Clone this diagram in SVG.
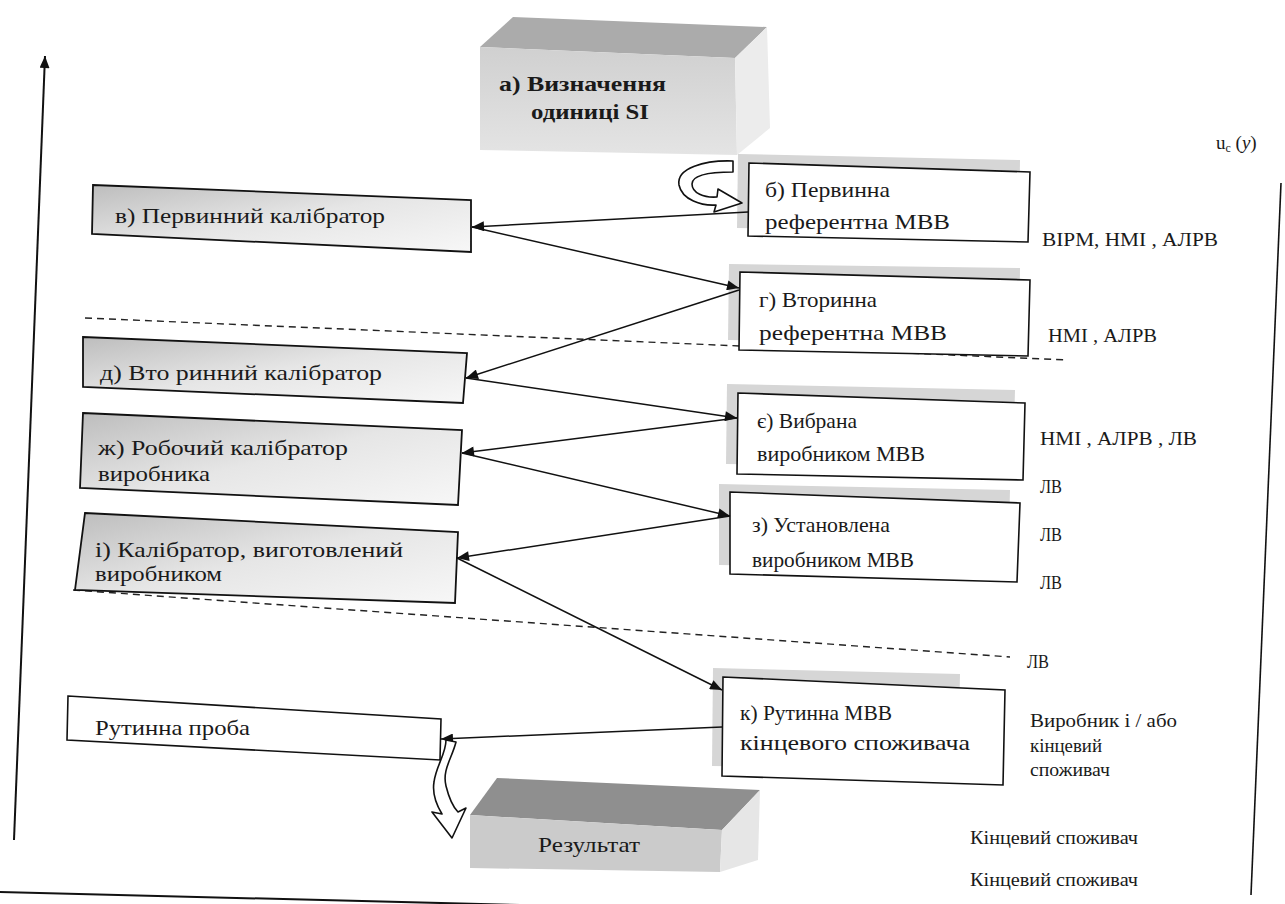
<svg xmlns="http://www.w3.org/2000/svg" width="1285" height="904" viewBox="0 0 1285 904">
<style>
text{font-family:"Liberation Serif","DejaVu Serif",serif;fill:#1a1a1a}
.n{font-size:22px}
.b{font-size:22px;font-weight:bold}
.r{font-size:18px}
.box{fill:#fff;stroke:#111;stroke-width:1.6}
.lbox{fill:url(#lg);stroke:#111;stroke-width:1.8}
.sh{fill:#d6d6d6}
.con{stroke:#111;stroke-width:1.5;fill:none;marker-end:url(#ah)}
.dash{stroke:#222;stroke-width:1.4;stroke-dasharray:7 5;fill:none}
.hollow{fill:#fff;stroke:#111;stroke-width:1.6;stroke-linejoin:round}
</style>
<defs>
<linearGradient id="lg" x1="0" y1="0" x2="1" y2="1">
<stop offset="0" stop-color="#bdbdbd"/>
<stop offset="0.5" stop-color="#e6e6e6"/>
<stop offset="1" stop-color="#f7f7f7"/>
</linearGradient>
<linearGradient id="front" x1="0" y1="0" x2="0" y2="1">
<stop offset="0" stop-color="#d0d0d0"/>
<stop offset="1" stop-color="#e4e4e4"/>
</linearGradient>
<marker id="ah" viewBox="0 0 12 10" refX="12" refY="5" markerWidth="13" markerHeight="10" markerUnits="userSpaceOnUse" orient="auto">
<path d="M0 0 L12 5 L0 10 Z" fill="#111"/>
</marker>
</defs>

<g id="axes">
<line x1="14" y1="840" x2="45" y2="56" stroke="#111" stroke-width="2" marker-end="url(#ah)"/>
<line x1="0" y1="892" x2="560" y2="906" stroke="#111" stroke-width="2"/>
<line x1="1281" y1="183" x2="1251" y2="895" stroke="#111" stroke-width="1.6"/>
</g>

<g id="dashes">
<line class="dash" x1="85" y1="318" x2="1068" y2="360"/>
<line class="dash" x1="73" y1="590" x2="1010" y2="657"/>
</g>

<g id="node-a">
<polygon points="480,47 513,17 767,27 735,58" fill="#ababab"/>
<polygon points="480,47 735,58 737,155 480,150" fill="url(#front)"/>
<polygon points="735,58 767,27 770,128 737,155" fill="#ececec"/>
<text class="b" x="499" y="91" textLength="167" lengthAdjust="spacingAndGlyphs">а) Визначення</text>
<text class="b" x="531" y="119" textLength="118" lengthAdjust="spacingAndGlyphs">одиниці SI</text>
</g>

<g id="node-b">
<polygon class="sh" points="738,154 1020,160 1019,232 737,228"/>
<polygon class="box" points="749,163 1030,172 1028,242 748,236"/>
<text class="n" x="765" y="197" textLength="125" lengthAdjust="spacingAndGlyphs">б) Первинна</text>
<text class="n" x="765" y="229" textLength="185" lengthAdjust="spacingAndGlyphs">референтна МВВ</text>
</g>

<g id="node-v">
<polygon class="lbox" points="93,185 471,200 471,252 92,234"/>
<text class="n" x="115" y="223" textLength="270" lengthAdjust="spacingAndGlyphs">в) Первинний калібратор</text>
</g>

<g id="node-g">
<polygon class="sh" points="729,264 1020,268 1019,344 728,340"/>
<polygon class="box" points="740,272 1030,280 1028,356 739,350"/>
<text class="n" x="759" y="307" textLength="118" lengthAdjust="spacingAndGlyphs">г) Вторинна</text>
<text class="n" x="759" y="340" textLength="188" lengthAdjust="spacingAndGlyphs">референтна МВВ</text>
</g>

<g id="node-d">
<polygon class="lbox" points="83,337 467,353 463,403 83,387"/>
<text class="n" x="100" y="380" textLength="282" lengthAdjust="spacingAndGlyphs">д) Вто ринний калібратор</text>
</g>

<g id="node-ye">
<polygon class="sh" points="727,384 1015,390 1013,468 726,464"/>
<polygon class="box" points="738,393 1025,403 1023,480 737,474"/>
<text class="n" x="757" y="428" textLength="100" lengthAdjust="spacingAndGlyphs">є) Вибрана</text>
<text class="n" x="757" y="461" textLength="168" lengthAdjust="spacingAndGlyphs">виробником МВВ</text>
</g>

<g id="node-zh">
<polygon class="lbox" points="83,413 462,430 458,505 80,488"/>
<text class="n" x="98" y="455" textLength="250" lengthAdjust="spacingAndGlyphs">ж) Робочий калібратор</text>
<text class="n" x="98" y="481" textLength="112" lengthAdjust="spacingAndGlyphs">виробника</text>
</g>

<g id="node-z">
<polygon class="sh" points="719,484 1010,490 1008,570 719,565"/>
<polygon class="box" points="730,492 1020,503 1017,582 730,574"/>
<text class="n" x="752" y="532" textLength="138" lengthAdjust="spacingAndGlyphs">з) Установлена</text>
<text class="n" x="752" y="567" textLength="162" lengthAdjust="spacingAndGlyphs">виробником МВВ</text>
</g>

<g id="node-i">
<polygon class="lbox" points="85,513 458,532 455,603 75,590"/>
<text class="n" x="95" y="557" textLength="308" lengthAdjust="spacingAndGlyphs">і) Калібратор, виготовлений</text>
<text class="n" x="95" y="581" textLength="127" lengthAdjust="spacingAndGlyphs">виробником</text>
</g>

<g id="node-k">
<polygon class="sh" points="713,668 960,674 958,770 712,766"/>
<polygon class="box" points="723,677 1005,690 1003,785 722,776"/>
<text class="n" x="740" y="720" textLength="152" lengthAdjust="spacingAndGlyphs">к) Рутинна МВВ</text>
<text class="n" x="740" y="750" textLength="230" lengthAdjust="spacingAndGlyphs">кінцевого споживача</text>
</g>

<g id="node-proba">
<polygon class="box" points="68,696 441,719 440,760 67,740"/>
<text class="n" x="95" y="735" textLength="155" lengthAdjust="spacingAndGlyphs">Рутинна проба</text>
</g>

<g id="node-result">
<polygon points="470,815 497,778 760,790 722,830" fill="#8f8f8f"/>
<polygon points="470,815 722,830 720,872 470,868" fill="#cbcbcb"/>
<polygon points="722,830 760,790 758,860 720,872" fill="#e6e6e6"/>
<text class="n" x="538" y="852" textLength="102" lengthAdjust="spacingAndGlyphs">Результат</text>
</g>

<g id="connectors">
<line class="con" x1="748" y1="212" x2="472" y2="227"/>
<line class="con" x1="472" y1="227" x2="739" y2="288"/>
<line class="con" x1="739" y1="290" x2="466" y2="378"/>
<line class="con" x1="466" y1="378" x2="737" y2="418"/>
<line class="con" x1="737" y1="418" x2="462" y2="453"/>
<line class="con" x1="462" y1="453" x2="730" y2="516"/>
<line class="con" x1="730" y1="516" x2="457" y2="558"/>
<line class="con" x1="457" y1="558" x2="722" y2="690"/>
<line class="con" x1="722" y1="727" x2="441" y2="739"/>
<path class="hollow" d="M733 161 C705 160 676 168 679 185 C682 200 702 206 716 205 L714 212 L742 203 L718 189 L717 197 C704 198 692 193 692 184 C692 174 712 172 733 172 Z"/>
<path class="hollow" d="M446 740 L456 742 C452 758 442 770 446 786 C449 798 452 806 458 812 L466 808 L452 838 L432 812 L442 814 C436 804 432 794 434 782 C436 766 446 754 446 740 Z"/>
</g>

<g id="labels">
<text x="1216" y="149" font-size="19">u<tspan font-size="12" dy="3">c</tspan><tspan dy="-3"> (</tspan><tspan font-style="italic">y</tspan>)</text>
<text class="r" x="1042" y="246" textLength="176" lengthAdjust="spacingAndGlyphs">ВІРМ,  НМІ , АЛРВ</text>
<text class="r" x="1048" y="342" textLength="109" lengthAdjust="spacingAndGlyphs">НМІ , АЛРВ</text>
<text class="r" x="1040" y="445" textLength="157" lengthAdjust="spacingAndGlyphs">НМІ , АЛРВ , ЛВ</text>
<text class="r" x="1040" y="493" textLength="22" lengthAdjust="spacingAndGlyphs">ЛВ</text>
<text class="r" x="1040" y="541" textLength="22" lengthAdjust="spacingAndGlyphs">ЛВ</text>
<text class="r" x="1040" y="589" textLength="22" lengthAdjust="spacingAndGlyphs">ЛВ</text>
<text class="r" x="1027" y="668" textLength="22" lengthAdjust="spacingAndGlyphs">ЛВ</text>
<text class="r" x="1030" y="727" textLength="147" lengthAdjust="spacingAndGlyphs">Виробник і / або</text>
<text class="r" x="1030" y="752" textLength="72" lengthAdjust="spacingAndGlyphs">кінцевий</text>
<text class="r" x="1030" y="776" textLength="80" lengthAdjust="spacingAndGlyphs">споживач</text>
<text class="r" x="970" y="844" textLength="168" lengthAdjust="spacingAndGlyphs">Кінцевий споживач</text>
<text class="r" x="970" y="886" textLength="168" lengthAdjust="spacingAndGlyphs">Кінцевий споживач</text>
</g>
</svg>
